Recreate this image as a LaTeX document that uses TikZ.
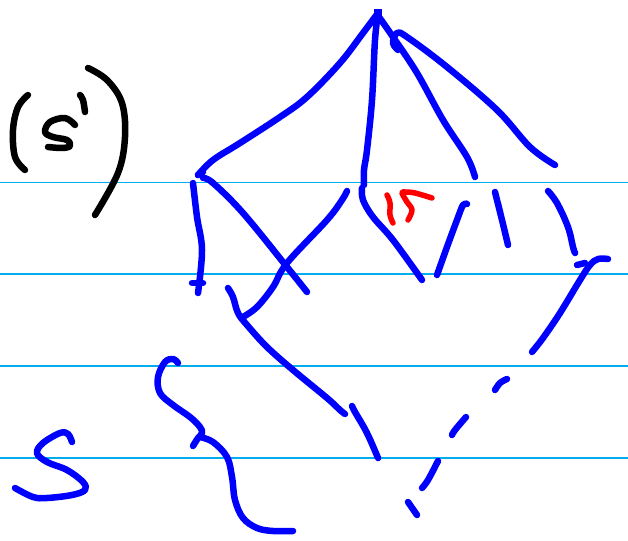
\documentclass[tikz,border=0pt]{standalone}
\begin{document}
\begin{tikzpicture}[x=1pt,y=-1pt,
  rule/.style={cyan,line width=1.8pt},
  ink/.style={blue,line width=6.5pt,line cap=round,line join=round},
  blk/.style={black,line width=6.5pt,line cap=round,line join=round},
  redink/.style={red,line width=5.5pt,line cap=round,line join=round}]
\useasboundingbox[fill=white] (0,0) rectangle (628,540);
% ruled lines
\foreach \y in {182.5,274,366,458} \draw[rule] (0,\y) -- (628,\y);
% (S^1)
\draw[blk] plot[smooth,tension=0.6] coordinates {(28,95) (18,107) (13,130) (15,157) (25,170)};
\draw[blk] plot[smooth,tension=0.6] coordinates {(75,125) (65,118) (50,122) (45,132) (53,137) (67,140) (70,146) (62,148) (48,147)};
\draw[blk] plot[smooth,tension=0.6] coordinates {(80,95) (83,100) (85,112)};
\draw[blk] plot[smooth,tension=0.6] coordinates {(88,68) (107,80) (122,103) (125,137) (118,173) (95,215)};
% top fan
\fill[blue] (374,9) rectangle (382,16);
\draw[ink] plot[smooth,tension=0.6] coordinates {(378,13) (363,33) (340,63) (307,97) (280,117) (240,143) (213,160) (198,175)};
\draw[ink] (198,175) -- (203,172);
\draw[ink] plot[smooth,tension=0.6] coordinates {(378,13) (375,40) (372,100) (367,150) (364,170) (364,185)};
\draw[ink] plot[smooth,tension=0.6] coordinates {(379,17) (393,37) (417,73) (443,120) (467,157) (475,177)};
\draw[ink] plot[smooth,tension=0.6] coordinates {(398,50) (393,43) (397,33) (407,37) (447,67) (497,110) (530,147) (555,165)};
% middle row
\draw[ink] plot[smooth,tension=0.6] coordinates {(193,183) (197,217) (202,250) (198,293)};
\draw[ink] (192,283) -- (203,283);
\draw[ink] plot[smooth,tension=0.6] coordinates {(203,178) (213,183) (243,213) (287,267) (307,292)};
\draw[ink] plot[smooth,tension=0.6] coordinates {(347,191) (342,200) (327,220) (287,263) (273,287) (257,307) (243,317)};
\draw[ink] plot[smooth,tension=0.6] coordinates {(228,288) (233,297) (238,313) (247,325) (267,347) (293,370) (327,398) (340,410) (345,414)};
\draw[ink] plot[smooth,tension=0.6] coordinates {(352,406) (355,412) (367,433) (378,458)};
\draw[ink] plot[smooth,tension=0.6] coordinates {(362,188) (363,200) (373,217) (393,240) (422,280)};
\draw[ink] plot[smooth,tension=0.6] coordinates {(467,204) (463,205) (457,220) (447,247) (437,275)};
\draw[ink] plot[smooth,tension=0.6] coordinates {(495,192) (502,220) (508,245)};
\draw[ink] plot[smooth,tension=0.6] coordinates {(548,191) (557,203) (568,227) (573,247) (575,253)};
\draw[ink] (577,265) -- (585,263);
\draw[ink] plot[smooth,tension=0.6] coordinates {(608,259) (598,259) (590,265) (580,280) (560,313) (543,338) (532,352)};
% dashes
\draw[ink] plot[smooth,tension=0.6] coordinates {(495,390) (500,383) (507,379)};
\draw[ink] plot[smooth,tension=0.6] coordinates {(452,435) (455,430) (466,417)};
\draw[ink] plot[smooth,tension=0.6] coordinates {(422,488) (428,480) (438,461)};
\draw[ink] (408,502) -- (417,515);
% brace-like curve
\draw[ink] plot[smooth,tension=0.6] coordinates {(178,363) (173,359) (165,362) (158,377) (160,393) (173,405) (190,417) (200,427) (202,433) (198,438) (193,446)};
\draw[ink] plot[smooth,tension=0.6] coordinates {(200,437) (213,442) (227,457) (232,477) (235,500) (243,518) (257,528) (273,531) (293,531)};
% S
\draw[ink] plot[smooth,tension=0.6] coordinates {(72,442) (68,434) (60,433) (43,443) (37,453) (47,462) (67,470) (83,482) (85,490) (72,495) (47,498) (33,497) (15,488)};
% red 15
\draw[redink] plot[smooth,tension=0.6] coordinates {(387,195) (390,203) (390,215) (393,223)};
\draw[redink] plot[smooth,tension=0.6] coordinates {(408,220) (412,210) (407,202) (402,193) (405,192) (415,193) (432,198)};
\end{tikzpicture}
\end{document}
